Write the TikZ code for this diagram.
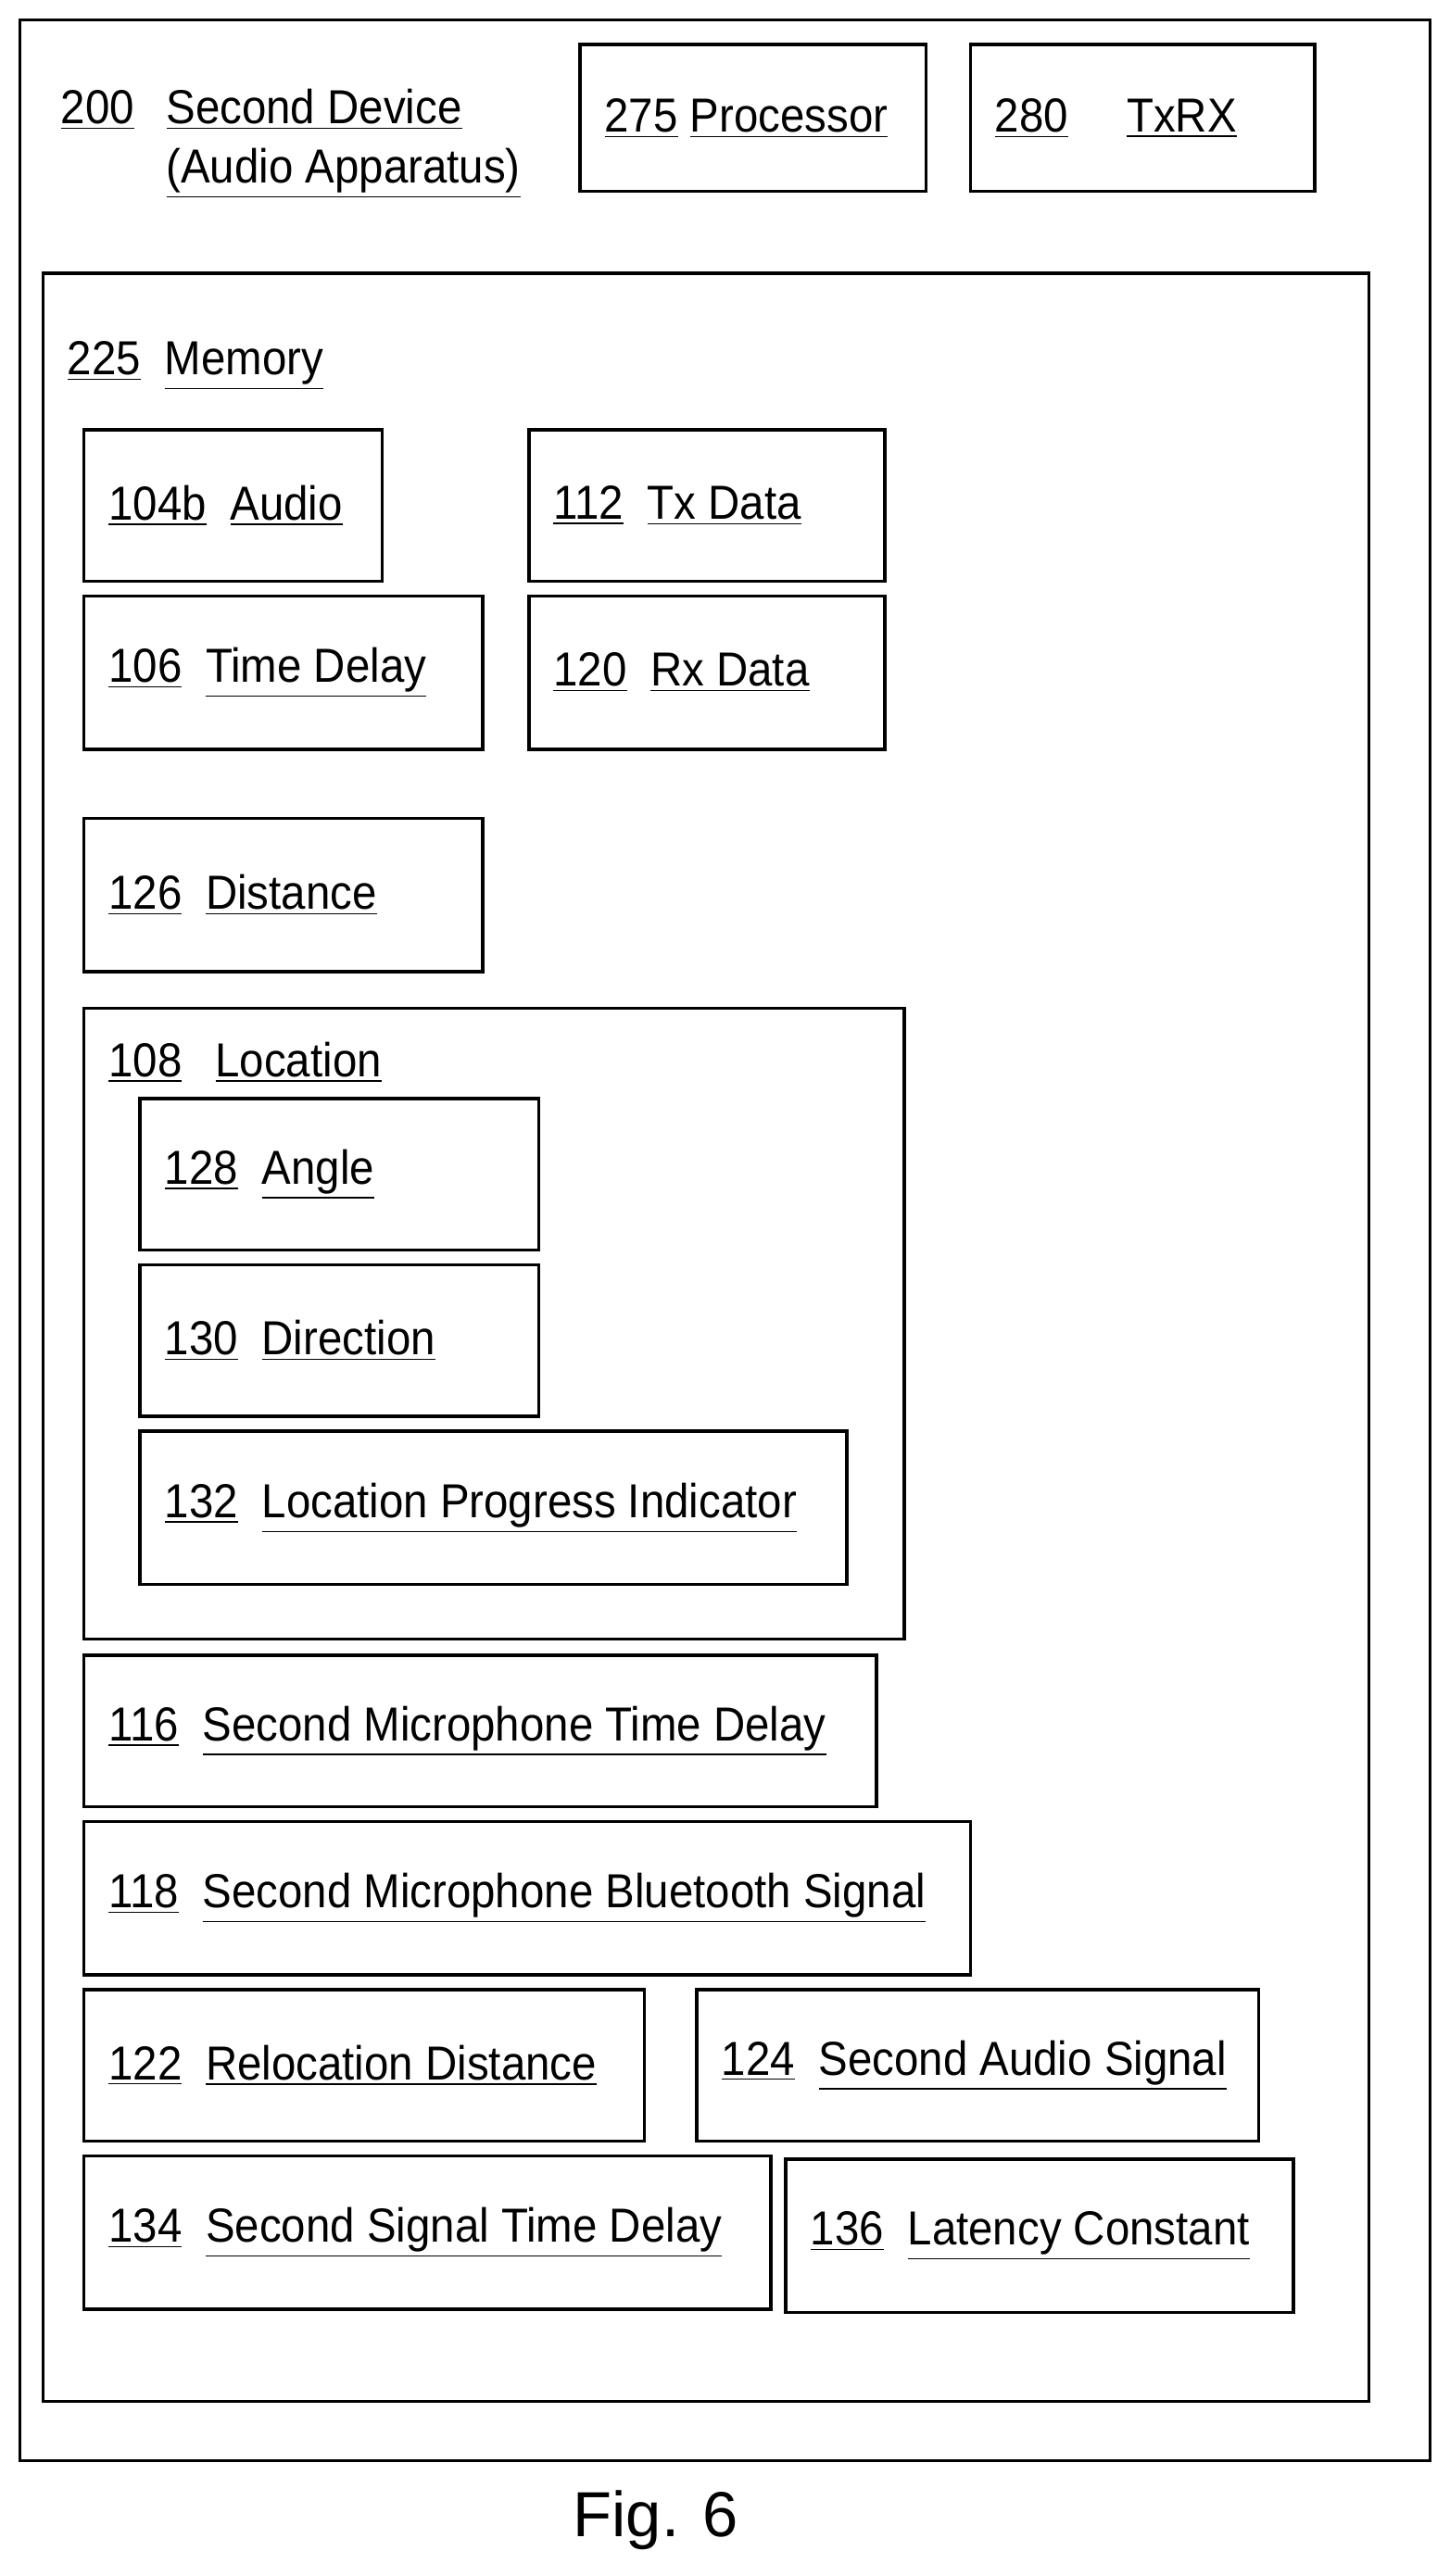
\documentclass[tikz,border=0pt]{standalone}
\usepackage{fontspec}
\setmainfont{Liberation Sans}
\newfontfamily\narrowfont[FakeStretch=0.92]{Liberation Sans}
\begin{document}
\begin{tikzpicture}
      [x=0.02cm, y=-0.02cm, line width=1.1pt,
       lbl/.style={anchor=west, inner sep=0pt, font=\narrowfont\fontsize{16.5}{20}\selectfont}]
      \useasboundingbox (0,0) rectangle (880,1564);
      % device frame and header
      \draw (12,12) rectangle (868,1494);
      \node[lbl, anchor=base west] (devnum) at (36,75) {\underline{200}};
      \node[lbl, anchor=base west] (devname) at (100,75) {\underline{Second Device}};
      \node[lbl, anchor=base west] (devsub) at (100,111) {\underline{(Audio Apparatus)}};
      \draw (352,27) rectangle (562,116);
      \node[lbl] (proc) at (366,72) {\underline{275} \underline{Processor}};
      \draw (589,27) rectangle (798,116);
      \node[lbl] (txnum) at (603,72) {\underline{280}};
      \node[lbl] (txrx) at (683,72) {\underline{TxRX}};

      % memory
      \draw (26,166) rectangle (831,1458);
      \node[lbl] (mem) at (40,222) {\underline{225}\hspace{0.5em}\underline{Memory}};

      \newcommand{\memitem}[7]{%
        \draw (#2,#3) rectangle (#4,#5);
        \node[lbl] (#1) at ({#2+14},{(#3+#5)/2}) {\underline{#6}\hspace{0.5em}\underline{#7}};}
      \memitem{audio}{51}{261}{232}{353}{104b}{Audio}
      \memitem{txdata}{321}{261}{537}{353}{112}{Tx Data}
      \memitem{tdelay}{51}{362}{293}{455}{106}{Time Delay}
      \memitem{rxdata}{321}{362}{537}{455}{120}{Rx Data}
      \memitem{dist}{51}{497}{293}{590}{126}{Distance}

      % location group
      \draw (51,612) rectangle (549,995);
      \node[lbl] (loc) at (65,645) {\underline{108}\hspace{0.7em}\underline{Location}};
      \memitem{angle}{85}{667}{327}{759}{128}{Angle}
      \memitem{dir}{85}{768}{327}{860}{130}{Direction}
      \memitem{lpi}{85}{869}{514}{962}{132}{Location Progress Indicator}

      \memitem{micdelay}{51}{1005}{532}{1097}{116}{Second Microphone Time Delay}
      \memitem{micbt}{51}{1106}{589}{1199}{118}{Second Microphone Bluetooth Signal}
      \memitem{reloc}{51}{1208}{391}{1300}{122}{Relocation Distance}
      \memitem{audsig}{423}{1208}{764}{1300}{124}{Second Audio Signal}
      \memitem{sigdelay}{51}{1309}{468}{1402}{134}{Second Signal Time Delay}
      \memitem{latency}{477}{1311}{785}{1404}{136}{Latency Constant}

      \node[font=\fontsize{22}{26}\selectfont] (fig) at (398,1530) {Fig. 6};
    \end{tikzpicture}
\end{document}
